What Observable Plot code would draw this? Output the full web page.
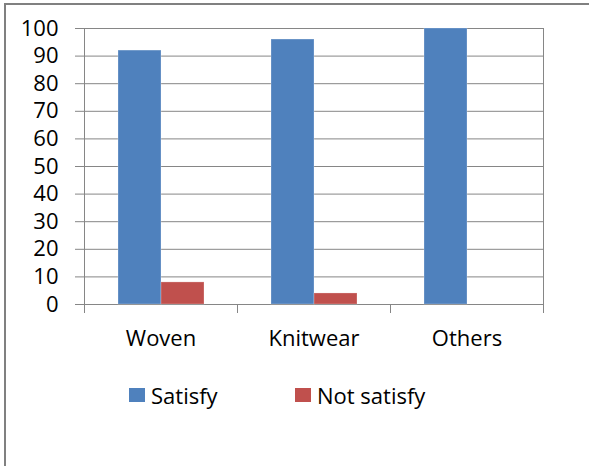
<!DOCTYPE html>
<html>
<head>
<meta charset="utf-8">
<script src="https://cdn.jsdelivr.net/npm/d3@7"></script>
<script src="https://cdn.jsdelivr.net/npm/@observablehq/plot@0.6"></script>
<style>
  html, body { margin: 0; padding: 0; background: #fff; }
  #wrap { position: relative; width: 589px; height: 466px; overflow: hidden; font-family: "Open Sans", sans-serif; }
  #chart { position: absolute; left: 0; top: 0; z-index: 1; }
  #border { position: absolute; z-index: 3; left: 4px; top: 3px; width: 600px; height: 480px; border-top: 2px solid #808080; border-left: 2px solid #808080; pointer-events: none; }
  #legend { position: absolute; z-index: 2; top: 380px; left: 0; width: 589px; height: 30px; font-size: 22px; color: #000; }
  .item { position: absolute; top: 0; display: flex; align-items: center; height: 30px; }
  .sw { width: 16px; height: 14px; margin-right: 6px; }
  svg text { font-family: "Open Sans", sans-serif; }
</style>
</head>
<body>
<div id="wrap">
  <div id="chart"></div>
  <div id="legend"></div>
  <div id="border"></div>
</div>
<script>
const categories = ["Woven", "Knitwear", "Others"];
const series = ["Satisfy", "Not satisfy"];
const satisfy = [92, 96, 100];
const notSatisfy = [8, 4, 0];
const yTicks = [0, 10, 20, 30, 40, 50, 60, 70, 80, 90, 100];
const colors = ["#4F81BD", "#C0504D"];

const data = [];
categories.forEach((c, i) => {
  data.push({cat: c, series: series[0], value: satisfy[i]});
  data.push({cat: c, series: series[1], value: notSatisfy[i]});
});

const plot = Plot.plot({
  width: 589,
  height: 466,
  marginLeft: 84,
  marginRight: 46,
  marginTop: 28,
  marginBottom: 162,
  style: {background: "transparent", fontSize: "22px", color: "#000"},
  fx: {domain: categories, padding: 0, label: null, axis: null},
  x: {domain: series, paddingInner: 0, paddingOuter: 0.76, axis: null},
  y: {domain: [0, 100], axis: null},
  color: {domain: series, range: colors},
  marks: [
    Plot.ruleY(yTicks, {stroke: "#868686", strokeWidth: 1}),
    Plot.frame({anchor: "left", facetAnchor: "left", stroke: "#868686", insetBottom: -8}),
    Plot.frame({anchor: "right", facetAnchor: "right", stroke: "#868686", insetBottom: -8}),
    Plot.frame({anchor: "left", stroke: "#868686", insetTop: 276, insetBottom: -8}),
    Plot.axisY({ticks: yTicks, tickSize: 9, tickPadding: 17, stroke: "#868686", fontSize: 22, facetAnchor: "left", label: null, tickFormat: d => String(d), color: "#000"}),
    Plot.barY(data, {fx: "cat", x: "series", y: "value", fill: "series", stroke: "#ffffff", strokeOpacity: 0.25, strokeWidth: 1}),
    Plot.axisFx({anchor: "bottom", domain: categories, tickSize: 0, tickPadding: 26, fontSize: 22, label: null, color: "#000"})
  ]
});
document.getElementById("chart").appendChild(plot);

const legend = document.getElementById("legend");
const lefts = [129, 295];
series.forEach((s, i) => {
  const it = document.createElement("div");
  it.className = "item";
  it.style.left = lefts[i] + "px";
  const sw = document.createElement("div");
  sw.className = "sw";
  sw.style.background = colors[i];
  const t = document.createElement("span");
  t.textContent = s;
  it.appendChild(sw);
  it.appendChild(t);
  legend.appendChild(it);
});
</script>
</body>
</html>
